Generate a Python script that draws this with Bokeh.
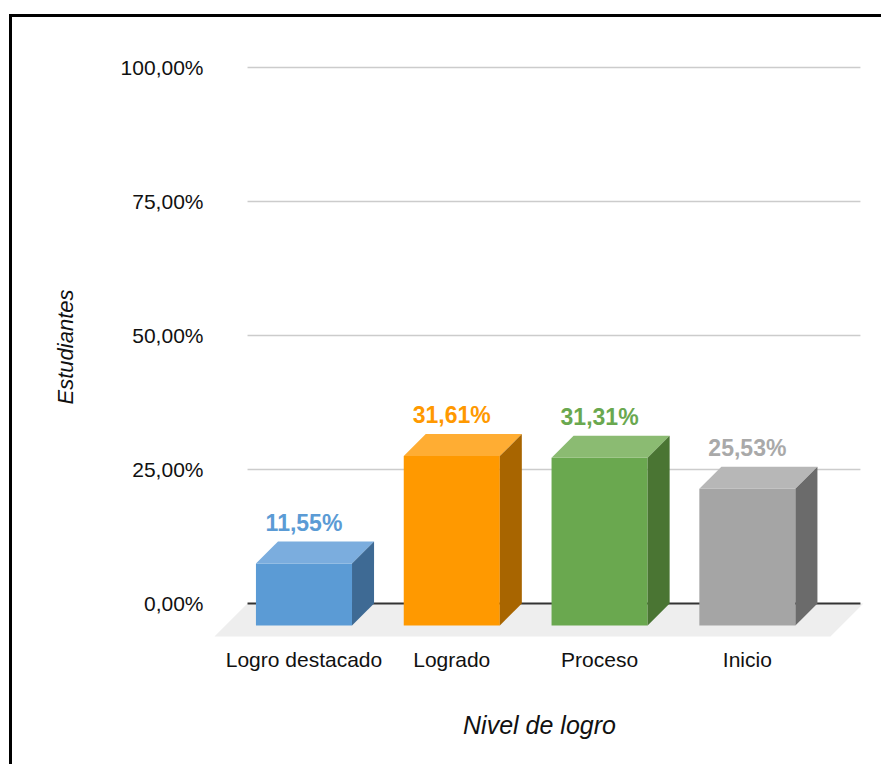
from bokeh.plotting import figure
from bokeh.models import ColumnDataSource, FixedTicker, Range1d
from bokeh.embed import file_html
from bokeh.resources import INLINE
from bokeh.core.properties import value

# ---------------- data ----------------
categories = ["Logro destacado", "Logrado", "Proceso", "Inicio"]
percentages = [11.55, 31.61, 31.31, 25.53]
y_ticks = [0, 25, 50, 75, 100]
y_tick_labels = ["0,00%", "25,00%", "50,00%", "75,00%", "100,00%"]

front_colors = ["#5b9bd5", "#ff9900", "#6aa84f", "#a5a5a5"]
top_colors = ["#7badde", "#ffad33", "#8bbb72", "#b7b7b7"]
side_colors = ["#3e6a94", "#a86500", "#4a7533", "#6b6b6b"]
label_colors = ["#5b9bd5", "#ff9900", "#6aa84f", "#a9a9a9"]

# ---------------- styling constants (3D look) ----------------
BAR_W = 0.65      # bar width in category units
DX = 0.149        # bar depth, x units
DY = 4.10         # bar depth, y units (%)
FLOOR_L = -0.606  # floor front-left x
FLOOR_R = 3.562   # floor front-right x
FLOOR_DX = 0.2233
FLOOR_DY = 6.16
GRID_X0 = -0.382
GRID_X1 = 3.765
FONT = "Liberation Sans"

p = figure(width=872, height=750,
           x_range=Range1d(-0.619, 3.806), y_range=Range1d(-6.53, 102.24),
           output_backend="svg", toolbar_location=None,
           min_border_left=200, min_border_right=18,
           min_border_top=38, min_border_bottom=129)
p.outline_line_color = None
p.xgrid.visible = False
p.ygrid.visible = False
p.background_fill_color = "white"
p.border_fill_color = "white"
p.styles = {"border-left": "3px solid black", "border-top": "3px solid black",
            "margin-left": "9px", "margin-top": "14px"}

xs_idx = list(range(len(categories)))

# floor
p.patch([FLOOR_L, FLOOR_R, FLOOR_R + FLOOR_DX, FLOOR_L + FLOOR_DX],
        [-FLOOR_DY, -FLOOR_DY, 0, 0], fill_color="#eeeeee", line_color=None)

# grid lines
grid_vals = [t for t in y_ticks if t != 0]
p.segment(x0=[GRID_X0] * len(grid_vals), x1=[GRID_X1] * len(grid_vals),
          y0=grid_vals, y1=grid_vals, line_color="#cccccc", line_width=1.5)
# baseline
p.segment(x0=[GRID_X0], x1=[GRID_X1], y0=[0], y1=[0],
          line_color="#333333", line_width=2)

# bars
front = ColumnDataSource(dict(
    left=[i - BAR_W / 2 for i in xs_idx],
    right=[i + BAR_W / 2 for i in xs_idx],
    bottom=[-DY] * len(xs_idx),
    top=[v - DY for v in percentages],
    color=front_colors))
p.quad(left="left", right="right", bottom="bottom", top="top",
       fill_color="color", line_color=None, source=front)

top_xs, top_ys, side_xs, side_ys = [], [], [], []
for i, v in zip(xs_idx, percentages):
    l, r = i - BAR_W / 2, i + BAR_W / 2
    top_xs.append([l, r, r + DX, l + DX])
    top_ys.append([v - DY, v - DY, v, v])
    side_xs.append([r, r, r + DX, r + DX])
    side_ys.append([-DY, v - DY, v, 0])
p.patches(top_xs, top_ys, fill_color=top_colors, line_color=None)
p.patches(side_xs, side_ys, fill_color=side_colors, line_color=None)

# value labels
lab = ColumnDataSource(dict(
    x=xs_idx, y=percentages,
    text=[f"{v:.2f}".replace(".", ",") + "%" for v in percentages],
    color=label_colors))
p.text(x="x", y="y", text="text", source=lab, text_color="color",
       text_align="center", text_baseline="bottom", y_offset=-6,
       text_font=value(FONT), text_font_size="23px", text_font_style="bold")

# axes
p.yaxis.ticker = FixedTicker(ticks=y_ticks)
p.yaxis.major_label_overrides = {t: s for t, s in zip(y_ticks, y_tick_labels)}
p.xaxis.ticker = FixedTicker(ticks=xs_idx)
p.xaxis.major_label_overrides = {i: c for i, c in zip(xs_idx, categories)}
for ax in (p.xaxis[0], p.yaxis[0]):
    ax.axis_line_color = None
    ax.major_tick_line_color = None
    ax.minor_tick_line_color = None
    ax.major_tick_out = 0
    ax.major_label_standoff = 9
    ax.major_label_text_font = FONT
    ax.major_label_text_font_size = "21px"
    ax.major_label_text_color = "#111111"
    ax.axis_label_text_font = FONT
    ax.axis_label_text_font_style = "italic"
    ax.axis_label_text_color = "#111111"
p.yaxis.axis_label = "Estudiantes"
p.yaxis.axis_label_text_font_size = "22px"
p.yaxis.axis_label_standoff = 40
p.xaxis.axis_label = "Nivel de logro"
p.xaxis.axis_label_text_font_size = "25px"
p.xaxis.axis_label_standoff = 37

open("out.html", "w").write(file_html(p, INLINE))
